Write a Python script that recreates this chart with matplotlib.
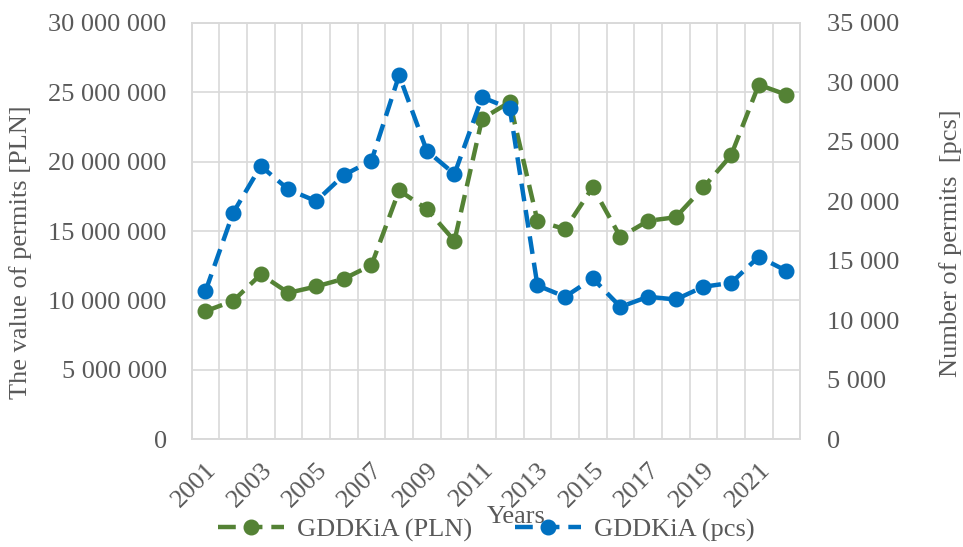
import numpy as np
import matplotlib.pyplot as plt
from matplotlib.ticker import FuncFormatter, MultipleLocator

# lata i wartosci
lata = list(range(2001, 2023))
wartosc_pln = [9.23e6, 9.97e6, 11.88e6, 10.55e6, 11.01e6, 11.56e6, 12.55e6, 17.93e6,
               16.59e6, 14.3e6, 23.1e6, 24.3e6, 15.74e6, 15.14e6, 18.17e6, 14.57e6,
               15.74e6, 16.0e6, 18.15e6, 20.46e6, 25.55e6, 24.83e6]
liczba_szt = [12450, 19040, 22970, 21000, 20020, 22210, 23420, 30600,
              24260, 22300, 28750, 27820, 12930, 11980, 13520, 11130,
              11980, 11750, 12820, 13150, 15340, 14160]
etykiety_x = [str(r) if (r - 2001) % 2 == 0 else "" for r in lata]

zielony = "#548235"
niebieski = "#0070C0"
szary_txt = "#595959"
szary_siatka = "#D9D9D9"

plt.rcParams['font.family'] = ['Liberation Serif', 'DejaVu Serif']
plt.rcParams['font.size'] = 19

def spacja(x, pos):
    return f"{x:,.0f}".replace(",", " ")

fig = plt.figure(figsize=(9.63, 5.47), dpi=100)
ax = fig.add_axes([0.199, 0.197, 0.632, 0.761])
ax2 = ax.twinx()

x = np.arange(len(lata))
l1, = ax.plot(x, wartosc_pln, color=zielony, lw=3.2, ls=(0, (4, 2)), marker='o',
              ms=10.5, label="GDDKiA (PLN)", zorder=3)
l2, = ax2.plot(x, liczba_szt, color=niebieski, lw=3.2, ls=(0, (4, 2)), marker='o',
               ms=10.5, label="GDDKiA (pcs)", zorder=3)

ax.set_xlim(-0.5, len(lata) - 0.5)
ax.set_ylim(0, 30e6)
ax2.set_ylim(0, 35000)
ax.yaxis.set_major_locator(MultipleLocator(5e6))
ax2.yaxis.set_major_locator(MultipleLocator(5000))
ax.yaxis.set_major_formatter(FuncFormatter(spacja))
ax2.yaxis.set_major_formatter(FuncFormatter(spacja))

# siatka pionowa na granicach kategorii
ax.set_xticks(np.arange(-0.5, len(lata), 1), minor=True)
ax.set_xticks(x)
ax.set_xticklabels(etykiety_x, rotation=45, ha='right', rotation_mode='anchor')
ax.grid(True, which='minor', axis='x', color=szary_siatka, lw=1.2)
ax.grid(True, which='major', axis='y', color=szary_siatka, lw=1.2)

for a in (ax, ax2):
    a.tick_params(which='both', length=0, colors=szary_txt, labelsize=19)
    for s in a.spines.values():
        s.set_color(szary_siatka)
        s.set_linewidth(1.2)
ax.tick_params(axis='x', pad=14)
ax.tick_params(axis='y', pad=18)
ax2.tick_params(axis='y', pad=19)

ax.set_ylabel("The value of permits [PLN]", color=szary_txt, fontsize=19, va='center')
ax.yaxis.set_label_coords(-0.281, 0.45)
ax2.set_ylabel("Number of permits  [pcs]", color=szary_txt, fontsize=19, va='center')
ax2.yaxis.set_label_coords(1.247, 0.471)
ax.set_xlabel("Years", color=szary_txt, fontsize=19, va='center')
ax.xaxis.set_label_coords(0.533, -0.1875)

leg = fig.legend(handles=[l1, l2], loc='center', bbox_to_anchor=(0.505, 0.031), ncol=2,
                 frameon=False, fontsize=19, handlelength=2.5, columnspacing=1.6,
                 handletextpad=0.5)
for t in leg.get_texts():
    t.set_color(szary_txt)

fig.savefig("out.png", dpi=100)
